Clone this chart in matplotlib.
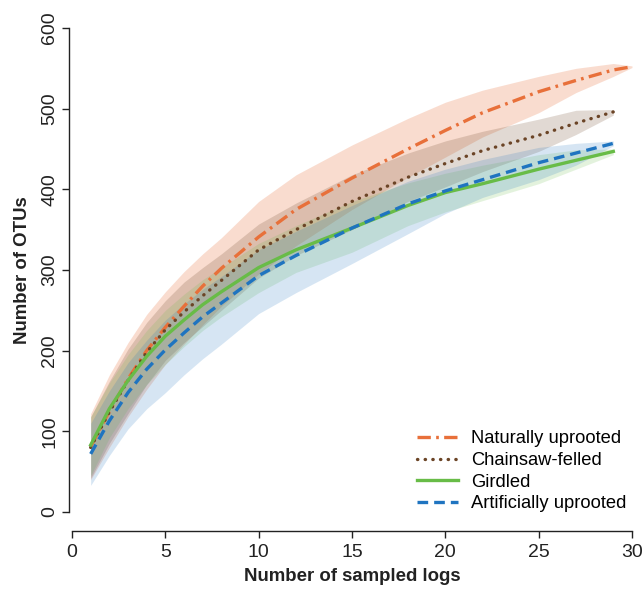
import numpy as np
import matplotlib
matplotlib.use("Agg")
import matplotlib.pyplot as plt

plt.rcParams['font.family'] = ['Liberation Sans', 'DejaVu Sans']

# mean rarefaction curves with their confidence bands
logs_nat = [1, 2, 3, 4, 5, 6, 7, 8, 10, 12, 15, 18, 20, 22, 25, 27, 29, 30]
logs = [1, 2, 3, 4, 5, 6, 7, 8, 10, 12, 15, 18, 20, 22, 25, 27, 29]

nat_mean = [81, 125, 165, 200, 229, 255, 280, 302, 341, 375, 414, 450, 473, 495, 521, 535, 548, 552]
nat_lo = [40, 80, 118, 152, 183, 208, 232, 255, 295, 330, 375, 415, 440, 465, 495, 520, 540, 551]
nat_hi = [122, 170, 210, 245, 273, 298, 320, 340, 385, 418, 455, 488, 508, 523, 540, 550, 556, 553]

saw_mean = [80, 124, 163, 198, 226, 248, 268, 287, 325, 350, 385, 415, 432, 448, 467, 482, 496]
saw_lo = [42, 85, 122, 158, 188, 210, 230, 250, 290, 318, 350, 385, 403, 422, 447, 468, 492]
saw_hi = [118, 162, 202, 235, 262, 285, 303, 320, 357, 383, 418, 445, 460, 472, 487, 498, 499]

gird_mean = [83, 128, 163, 193, 218, 238, 257, 273, 303, 325, 352, 380, 396, 407, 425, 436, 447]
gird_lo = [45, 92, 128, 158, 183, 205, 225, 242, 272, 297, 322, 355, 372, 386, 407, 425, 443]
gird_hi = [118, 160, 195, 225, 250, 270, 288, 303, 333, 355, 385, 408, 420, 430, 443, 449, 450]

art_mean = [72, 113, 148, 177, 201, 222, 242, 259, 293, 318, 352, 382, 398, 412, 433, 445, 457]
art_lo = [33, 70, 103, 128, 148, 170, 190, 208, 246, 272, 308, 345, 370, 390, 412, 430, 454]
art_hi = [110, 150, 185, 213, 238, 258, 276, 292, 325, 348, 380, 410, 425, 437, 452, 457, 460]

c_nat = '#E8703A'
c_saw = '#6B4426'
c_gird = '#68BC47'
c_art = '#1F74C0'

fig = plt.figure(figsize=(6.42, 5.90), dpi=100)
ax = fig.add_axes([72 / 642, 1 - 512 / 590, 560 / 642, 484 / 590])

ax.fill_between(logs_nat, nat_lo, nat_hi, color=c_nat, alpha=0.24, lw=0)
ax.fill_between(logs, saw_lo, saw_hi, color=c_saw, alpha=0.20, lw=0)
ax.fill_between(logs, gird_lo, gird_hi, color=c_gird, alpha=0.18, lw=0)
ax.fill_between(logs, art_lo, art_hi, color=c_art, alpha=0.18, lw=0)

lw = 2.4
ax.plot(logs_nat, nat_mean, color=c_nat, lw=lw, dashes=(4, 1.6, 0.8, 1.6),
        label='Naturally uprooted')
ax.plot(logs, saw_mean, color=c_saw, lw=lw, dashes=(0.1, 2.2),
        dash_capstyle='round', label='Chainsaw-felled')
ax.plot(logs, gird_mean, color=c_gird, lw=lw, label='Girdled')
ax.plot(logs, art_mean, color=c_art, lw=lw, dashes=(3.2, 1.8),
        label='Artificially uprooted')

ax.set_xlim(0, 30)
ax.set_ylim(0, 600)
ax.set_xticks([0, 5, 10, 15, 20, 25, 30])
ax.set_yticks([0, 100, 200, 300, 400, 500, 600])

for s in ['top', 'right']:
    ax.spines[s].set_visible(False)
ax.spines['left'].set_position(('outward', 2))
ax.spines['bottom'].set_position(('outward', 14))
ax.spines['left'].set_bounds(0, 600)
ax.spines['bottom'].set_bounds(0, 30)
for s in ['left', 'bottom']:
    ax.spines[s].set_color('#222222')
    ax.spines[s].set_linewidth(1.0)

ax.tick_params(direction='out', length=5, width=1.0, colors='#222222',
               labelsize=14, labelcolor='#222222')
ax.tick_params(axis='y', pad=3)
ax.tick_params(axis='x', pad=4)
for t in ax.get_yticklabels():
    t.set_rotation(90)
    t.set_va('center')

ax.set_xlabel('Number of sampled logs', fontsize=13.4, fontweight='bold',
              color='#222222', labelpad=5)
ax.set_ylabel('Number of OTUs', fontsize=13.4, fontweight='bold',
              color='#222222', labelpad=7)

fig.legend(loc='upper left', bbox_to_anchor=(408 / 642, 1 - 421 / 590),
           frameon=False, fontsize=13.2, borderpad=0, handlelength=2.2,
           handletextpad=0.75, labelspacing=0.26)

fig.savefig('out.png', dpi=100)
